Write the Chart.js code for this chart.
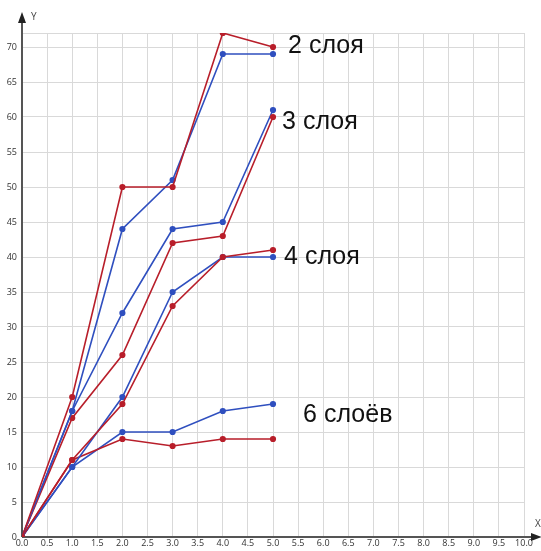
<!DOCTYPE html>
<html>
<head>
<meta charset="utf-8">
<script src="https://cdn.jsdelivr.net/npm/chart.js@4/dist/chart.umd.min.js"></script>
<style>
html,body{margin:0;padding:0;background:#fff;}
#wrap{width:541px;height:551px;position:relative;}
</style>
</head>
<body>
<div id="wrap"><canvas id="c" width="541" height="551"></canvas></div>
<script>
const xValues = [0, 1, 2, 3, 4, 5];
const red2 = [0, 20, 50, 50, 72, 70];
const blue2 = [0, 18, 44, 51, 69, 69];
const red3 = [0, 17, 26, 42, 43, 60];
const blue3 = [0, 18, 32, 44, 45, 61];
const red4 = [0, 11, 19, 33, 40, 41];
const blue4 = [0, 10, 20, 35, 40, 40];
const red6 = [0, 11, 14, 13, 14, 14];
const blue6 = [0, 10, 15, 15, 18, 19];
const seriesLabels = ["2 слоя", "3 слоя", "4 слоя", "6 слоёв"];
const labelAnchors = [[5.30, 69.2], [5.18, 58.3], [5.22, 39.0], [5.60, 16.4]];
const xAxisTitle = "X";
const yAxisTitle = "Y";

const RED = "#b81e2a";
const BLUE = "#2f4fbf";

function pts(ys){ return xValues.map((x,i)=>({x:x, y:ys[i]})); }
function ds(ys, color){
  return {data: pts(ys), borderColor: color, backgroundColor: color, showLine: true,
          borderWidth: 1.6, pointRadius: 2.3, pointHoverRadius: 2.3, tension: 0};
}

const overlay = {
  id: 'overlay',
  beforeDatasetsDraw(chart){
    const ctx = chart.ctx, xs = chart.scales.x, ys = chart.scales.y;
    const x0 = xs.getPixelForValue(0), y0 = ys.getPixelForValue(0);
    ctx.save();
    ctx.strokeStyle = '#555'; ctx.fillStyle = '#222'; ctx.lineWidth = 2;
    // Y axis
    ctx.beginPath(); ctx.moveTo(x0, y0); ctx.lineTo(x0, 20); ctx.stroke();
    ctx.beginPath(); ctx.moveTo(x0, 12); ctx.lineTo(x0-4, 23); ctx.lineTo(x0+4, 23); ctx.closePath(); ctx.fill();
    // X axis
    ctx.beginPath(); ctx.moveTo(x0, y0); ctx.lineTo(533, y0); ctx.stroke();
    ctx.beginPath(); ctx.moveTo(542, y0); ctx.lineTo(531, y0-4); ctx.lineTo(531, y0+4); ctx.closePath(); ctx.fill();
    ctx.fillStyle = '#444';
    ctx.font = '10px "Open Sans", sans-serif';
    ctx.textAlign = 'left'; ctx.textBaseline = 'alphabetic';
    ctx.fillText(yAxisTitle, x0 + 9, 20);
    ctx.fillText(xAxisTitle, 535, y0 - 10);
    ctx.restore();
  },
  afterDatasetsDraw(chart){
    const ctx = chart.ctx, xs = chart.scales.x, ys = chart.scales.y;
    ctx.save();
    ctx.fillStyle = '#111';
    ctx.font = '25px "Liberation Sans", Arial, sans-serif';
    ctx.textAlign = 'left'; ctx.textBaseline = 'alphabetic';
    seriesLabels.forEach((t,i)=>{
      const a = labelAnchors[i];
      ctx.fillText(t, xs.getPixelForValue(a[0]), ys.getPixelForValue(a[1]));
    });
    ctx.restore();
  }
};

new Chart(document.getElementById('c'), {
  type: 'scatter',
  data: { datasets: [ds(red2, RED), ds(blue2, BLUE), ds(red3, RED), ds(blue3, BLUE),
                     ds(red4, RED), ds(blue4, BLUE), ds(red6, RED), ds(blue6, BLUE)] },
  options: {
    responsive: false, animation: false, devicePixelRatio: 1,
    layout: { padding: { top: 33, right: 17, left: 0, bottom: 0 } },
    plugins: { legend: { display: false }, tooltip: { enabled: false } },
    scales: {
      x: {
        type: 'linear', min: 0, max: 10,
        afterFit(s){ s.height = 14; },
        ticks: { stepSize: 0.5, padding: 1, color: '#333', maxRotation: 0, autoSkip: false,
                 font: { size: 9, family: '"Open Sans", sans-serif' },
                 callback: v => Number(v).toFixed(1) },
        grid: { color: '#d9d9d9', lineWidth: 1, drawTicks: false },
        border: { display: false }
      },
      y: {
        type: 'linear', min: 0, max: 72,
        afterFit(s){ s.width = 22; },
        ticks: { stepSize: 5, padding: 5, color: '#333',
                 font: { size: 9, family: '"Open Sans", sans-serif' },
                 callback: v => (v % 5 === 0 ? String(v) : '') },
        grid: { color: '#d9d9d9', lineWidth: 1, drawTicks: false },
        border: { display: false }
      }
    }
  },
  plugins: [overlay]
});
</script>
</body>
</html>
